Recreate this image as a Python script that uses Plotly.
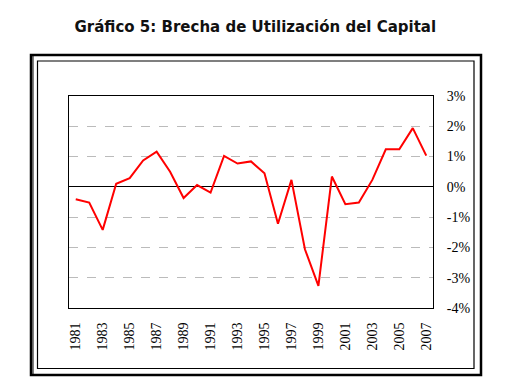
import plotly.graph_objects as go

years = [str(y) for y in range(1981, 2008)]
brecha = [-0.41, -0.52, -1.42, 0.10, 0.29, 0.87, 1.16, 0.50, -0.37, 0.06,
          -0.19, 1.02, 0.77, 0.84, 0.45, -1.22, 0.23, -2.06, -3.27, 0.34,
          -0.57, -0.52, 0.23, 1.24, 1.24, 1.94, 1.03]
y_ticks = [3, 2, 1, 0, -1, -2, -3, -4]
y_labels = ["3%", "2%", "1%", "0%", "-1%", "-2%", "-3%", "-4%"]
x_ticks = years[::2]

W, H = 521, 380
L, R, T, B = 69, 433, 96, 308
pw, ph = R - L, B - T

def px(x):
    return (x - L) / pw

def py(y):
    return (B - y) / ph

fig = go.Figure()
fig.add_trace(go.Scatter(x=years, y=brecha, mode="lines",
                         line=dict(color="#FF0000", width=2),
                         hoverinfo="skip", showlegend=False))

serif = "Liberation Serif, Times New Roman, serif"

fig.update_layout(
    width=W, height=H,
    margin=dict(l=L, r=W - R, t=T, b=H - B),
    paper_bgcolor="white", plot_bgcolor="white",
    title=dict(text="<b>Gráfico 5: Brecha de Utilización del Capital</b>",
               x=0.49, xanchor="center", y=1 - 27 / H, yanchor="middle",
               font=dict(family="DejaVu Sans, Verdana, sans-serif", size=15, color="#111111")),
    xaxis=dict(type="category", tickmode="array", tickvals=x_ticks, ticktext=x_ticks,
               tickangle=-90, tickfont=dict(family=serif, size=14, color="black"),
               showgrid=False, showline=True, mirror=True, linecolor="black", linewidth=1,
               ticks="", ticklabelstandoff=8, range=[-0.5, 26.5], fixedrange=True),
    yaxis=dict(side="right", range=[-4, 3], tickmode="array", tickvals=y_ticks, ticktext=y_labels,
               tickfont=dict(family=serif, size=14, color="black"),
               showgrid=True, gridcolor="#BBBBBB", griddash="dash", gridwidth=1,
               zeroline=True, zerolinecolor="black", zerolinewidth=1.3,
               showline=True, mirror=True, linecolor="black", linewidth=1,
               ticks="", ticklabelstandoff=10, fixedrange=True),
)

shapes = [
    # outer frame
    dict(type="rect", xref="paper", yref="paper",
         x0=px(31), x1=px(481), y0=py(375), y1=py(55),
         line=dict(color="black", width=2.5), layer="above"),
    dict(type="line", xref="paper", yref="paper",
         x0=px(33), x1=px(33), y0=py(374), y1=py(56),
         line=dict(color="black", width=1), layer="above"),
    # inner frame
    dict(type="rect", xref="paper", yref="paper",
         x0=px(37.5), x1=px(474), y0=py(368.5), y1=py(61),
         line=dict(color="black", width=1.2), layer="above"),
]
fig.update_layout(shapes=shapes)

fig.write_html("out.html", config={"displayModeBar": False},
               post_script="document.body.style.margin='0';document.body.style.overflow='hidden';")
